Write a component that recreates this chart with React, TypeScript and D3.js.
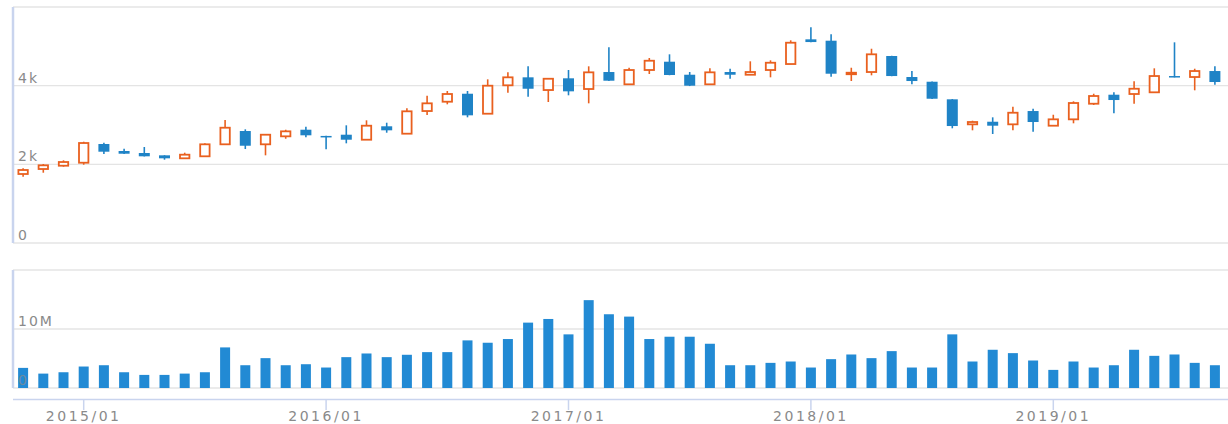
import React from 'react';
import * as d3 from 'd3';

// monthly candles, 2014/10 .. 2019/10
const months = d3.timeMonths(new Date(2014, 9, 1), new Date(2019, 10, 1)).map(d3.timeFormat('%Y/%m'));
const tickLabels = ['2015/01', '2016/01', '2017/01', '2018/01', '2019/01'];

const open = [1754, 1881, 1965, 2041, 2517, 2339, 2288, 2229, 2153, 2204, 2509, 2847, 2509, 2712, 2880, 2722, 2753, 2626, 2967, 2779, 3355, 3592, 3795, 3287, 4009, 4212, 3889, 4187, 3915, 4347, 4034, 4398, 4609, 4278, 4034, 4347, 4278, 4398, 4550, 5178, 5143, 4304, 4347, 4754, 4220, 4100, 3653, 3017, 3083, 3017, 3355, 2982, 3144, 3541, 3770, 3788, 3831, 4245, 4220, 4372, 4130];
const close = [1856, 1975, 2059, 2542, 2321, 2270, 2204, 2153, 2245, 2509, 2931, 2473, 2753, 2839, 2738, 2712, 2626, 2982, 2865, 3348, 3551, 3788, 3246, 3999, 4212, 3922, 4176, 3856, 4339, 4126, 4398, 4634, 4271, 3999, 4339, 4278, 4347, 4583, 5092, 5109, 4304, 4329, 4797, 4245, 4118, 3668, 2974, 3076, 2982, 3312, 3076, 3144, 3559, 3737, 3635, 3922, 4245, 4212, 4372, 4093, 4200];
const low = [1685, 1787, 1940, 1990, 2262, 2265, 2200, 2118, 2150, 2200, 2505, 2389, 2229, 2651, 2687, 2382, 2534, 2620, 2804, 2775, 3254, 3526, 3195, 3280, 3821, 3719, 3584, 3755, 3551, 4120, 4030, 4296, 4265, 3990, 4030, 4177, 4270, 4212, 4545, 5105, 4228, 4118, 4263, 4240, 4034, 3660, 2916, 2865, 2771, 2865, 2829, 2975, 3043, 3508, 3297, 3541, 3825, 4210, 3882, 4024, 4080];
const high = [1899, 2008, 2102, 2575, 2550, 2397, 2440, 2232, 2296, 2534, 3127, 2890, 2760, 2880, 2956, 2725, 2992, 3119, 3058, 3424, 3744, 3864, 3864, 4161, 4339, 4492, 4180, 4398, 4492, 4975, 4456, 4703, 4797, 4347, 4441, 4431, 4619, 4644, 5153, 5483, 5305, 4456, 4939, 4760, 4372, 4105, 3660, 3109, 3195, 3465, 3414, 3261, 3602, 3795, 3831, 4110, 4441, 5102, 4431, 4492, 4260];
// volume in millions
const volume = [3.41, 2.44, 2.67, 3.64, 3.86, 2.67, 2.22, 2.22, 2.44, 2.67, 6.88, 3.86, 5.06, 3.86, 4.03, 3.47, 5.23, 5.85, 5.23, 5.63, 6.08, 6.08, 8.07, 7.67, 8.3, 11.08, 11.7, 9.09, 14.89, 12.5, 12.1, 8.3, 8.69, 8.69, 7.5, 3.86, 3.86, 4.26, 4.49, 3.47, 4.89, 5.68, 5.06, 6.25, 3.47, 3.47, 9.09, 4.49, 6.48, 5.91, 4.66, 3.07, 4.49, 3.47, 3.86, 6.48, 5.45, 5.68, 4.26, 3.86, 4.0];

const priceTicks = [0, 2000, 4000, 6000];
const volTicks = [0, 10, 20];

const W = 1228;
const H = 424;
const UP = '#e9601f';
const DOWN = '#1f83c6';
const BAR = '#228ad4';
const GRID = '#e4e4e4';
const AXIS = '#c9d4ee';
const TEXT = '#8a8a8a';
const FONT = '"DejaVu Sans", Verdana, sans-serif';

export default function App() {
  const left = 13;
  const x = d3.scaleBand<string>().domain(months).range([left, left + months.length * 20.2]).padding(0);
  const cx = (i: number) => (x(months[i]) as number) + x.bandwidth() / 2;

  const y = d3.scaleLinear().domain([0, 6000]).range([243, 7]);
  const yv = d3.scaleLinear().domain([0, 20]).range([388, 270]);

  const bodyW = 11;
  const barW = 10;
  const fmtP = (v: number) => (v === 0 ? '0' : v / 1000 + 'k');
  const fmtV = (v: number) => (v === 0 ? '0' : v + 'M');

  return (
    <svg width={W} height={H} style={{ position: 'absolute', left: 0, top: 0, display: 'block', background: '#fff' }}>
      {/* price grid */}
      {priceTicks.map((t) => (
        <line key={'pg' + t} x1={left} x2={W} y1={y(t)} y2={y(t)} stroke={GRID} strokeWidth={1.3} />
      ))}
      <line x1={left} x2={left} y1={y(6000)} y2={y(0)} stroke={AXIS} strokeWidth={2.5} />

      {/* candles */}
      {months.map((m, i) => {
        const up = close[i] >= open[i];
        const c = up ? UP : DOWN;
        const top = y(Math.max(open[i], close[i]));
        const bot = y(Math.min(open[i], close[i]));
        const h = Math.max(bot - top, 1.5);
        return (
          <g key={m}>
            <line x1={cx(i)} x2={cx(i)} y1={y(high[i])} y2={y(low[i])} stroke={c} strokeWidth={1.6} />
            {up ? (
              <rect x={cx(i) - bodyW / 2 + 0.8} y={top} width={bodyW - 1.6} height={h} fill="#fff" stroke={c} strokeWidth={1.8} />
            ) : (
              <rect x={cx(i) - bodyW / 2} y={top} width={bodyW} height={h} fill={c} />
            )}
          </g>
        );
      })}

      {priceTicks.slice(0, 3).map((t) => (
        <text key={'pl' + t} x={18} y={y(t) - 3} fill={TEXT} fontSize={14} fontFamily={FONT} letterSpacing={2}>
          {fmtP(t)}
        </text>
      ))}

      {/* volume grid */}
      {volTicks.map((t) => (
        <line key={'vg' + t} x1={left} x2={W} y1={yv(t)} y2={yv(t)} stroke={GRID} strokeWidth={1.3} />
      ))}
      <line x1={left} x2={left} y1={yv(20)} y2={yv(0)} stroke={AXIS} strokeWidth={2.5} />

      {months.map((m, i) => (
        <rect key={'v' + m} x={cx(i) - barW / 2} y={yv(volume[i])} width={barW} height={yv(0) - yv(volume[i])} fill={BAR} />
      ))}

      {volTicks.slice(0, 2).map((t) => (
        <text key={'vl' + t} x={18} y={yv(t) - 3} fill={TEXT} fontSize={14} fontFamily={FONT} letterSpacing={2} opacity={t === 0 ? 0.7 : 1}>
          {fmtV(t)}
        </text>
      ))}

      {/* x axis */}
      <line x1={left} x2={W} y1={399.5} y2={399.5} stroke={AXIS} strokeWidth={1.5} />
      {tickLabels.map((lab) => {
        const i = months.indexOf(lab);
        return (
          <g key={lab}>
            <line x1={cx(i)} x2={cx(i)} y1={399.5} y2={410} stroke={AXIS} strokeWidth={1.5} />
            <text x={cx(i)} y={421} textAnchor="middle" fill={TEXT} fontSize={14} fontFamily={FONT} letterSpacing={2.5}>
              {lab}
            </text>
          </g>
        );
      })}
    </svg>
  );
}
